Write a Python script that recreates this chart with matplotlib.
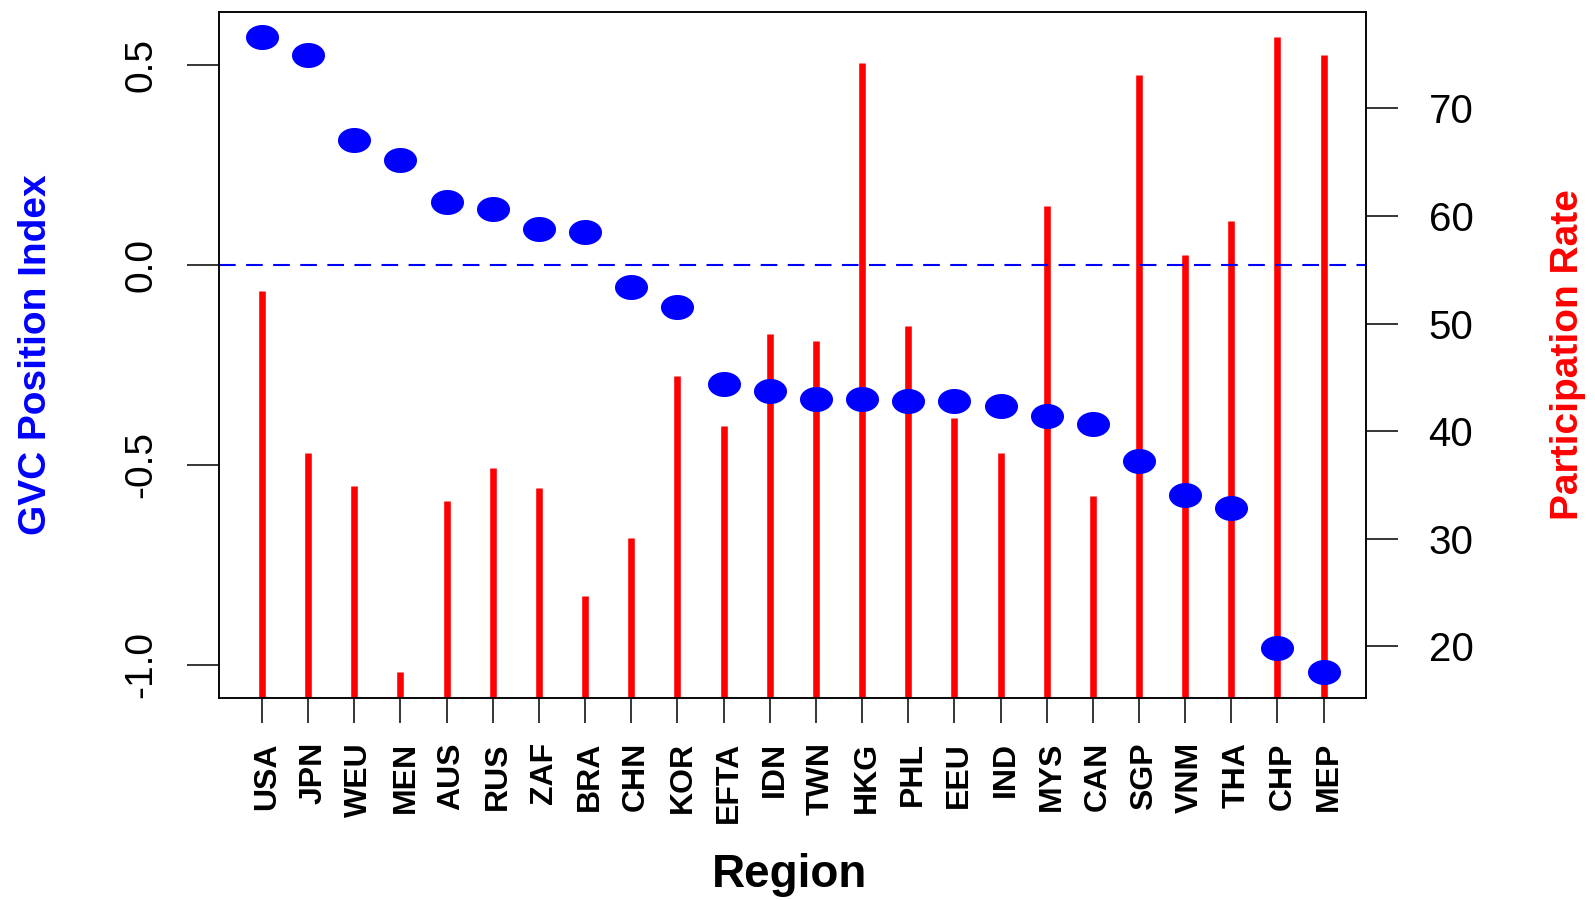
import numpy as np
import matplotlib
matplotlib.use('Agg')
import matplotlib.pyplot as plt
from matplotlib.path import Path
from matplotlib.transforms import ScaledTranslation

plt.rcParams['font.family'] = ['Liberation Sans', 'DejaVu Sans']

# data
regions = ['USA', 'JPN', 'WEU', 'MEN', 'AUS', 'RUS', 'ZAF', 'BRA', 'CHN', 'KOR', 'EFTA', 'IDN',
           'TWN', 'HKG', 'PHL', 'EEU', 'IND', 'MYS', 'CAN', 'SGP', 'VNM', 'THA', 'CHP', 'MEP']
gvc_position = [0.570, 0.525, 0.313, 0.264, 0.158, 0.140, 0.090, 0.084, -0.054, -0.104, -0.297, -0.316,
                -0.334, -0.334, -0.341, -0.341, -0.352, -0.378, -0.397, -0.489, -0.576, -0.609, -0.958, -1.019]
participation = [53.0, 38.0, 34.9, 17.6, 33.5, 36.6, 34.7, 24.7, 30.1, 45.1, 40.5, 49.0,
                 48.4, 74.2, 49.8, 41.2, 38.0, 60.9, 34.0, 73.1, 56.4, 59.5, 76.6, 75.0]
gvc_ticks = [-1.0, -0.5, 0.0, 0.5]
gvc_tick_labels = ['-1.0', '-0.5', '0.0', '0.5']
part_ticks = [20, 30, 40, 50, 60, 70]

x = np.arange(1, len(regions) + 1)


def r_lim(v):
    # R style axis range: data range plus 4% each side
    lo, hi = min(v), max(v)
    r = hi - lo
    return lo - 0.04 * r, hi + 0.04 * r


# slightly wide dot, the picture is stretched sideways
t = np.linspace(0, 2 * np.pi, 64)
ellipse = Path(np.column_stack([1.32 * np.cos(t), np.sin(t)]), closed=True)

fig = plt.figure(figsize=(15.95, 9), dpi=100)
ax = fig.add_axes([0.1376, 0.2248, 0.7189, 0.7619])
ax2 = ax.twinx()

# participation rate (red spikes, right axis)
ax2.vlines(x, 0, participation, color='#ff0000', lw=4.75)
ax2.set_ylim(r_lim(participation))
ax2.set_yticks(part_ticks)
ax2.tick_params(axis='y', labelsize=29, length=23, width=1.1, pad=22)

# position index (blue dots, left axis) on top
ax.set_zorder(ax2.get_zorder() + 1)
ax.patch.set_visible(False)
ax.axhline(0, color='#0000ff', lw=1.5, dashes=(8, 5))
ax.plot(x, gvc_position, ls='none', marker=ellipse, ms=23.8, color='#0000ff', mew=0)
ax.set_xlim(r_lim(x))
ax.set_ylim(r_lim(gvc_position))
ax.set_yticks(gvc_ticks)
ax.set_yticklabels(gvc_tick_labels, rotation=90, va='center')
ax.tick_params(axis='y', labelsize=28, length=23, width=1.1, pad=20)
ax.set_xticks(x)
ax.set_xticklabels(regions, rotation=90, fontweight='bold', fontsize=23)
ax.tick_params(axis='x', length=18, width=1.1, pad=14)
for lab in ax.get_xticklabels():
    lab.set_transform(lab.get_transform() + ScaledTranslation(0.05, 0, fig.dpi_scale_trans))

for a in (ax, ax2):
    for s in a.spines.values():
        s.set_linewidth(1.1)

fig.text(36 / 1595, 1 - 355 / 900, 'GVC Position Index', color='#0000ff', fontsize=28,
         fontweight='bold', rotation=90, ha='center', va='center')
fig.text(1568 / 1595, 1 - 355 / 900, 'Participation Rate', color='#ff0000', fontsize=28,
         fontweight='bold', rotation=90, ha='center', va='center')
fig.text(790 / 1595, 1 - 887 / 900, 'Region', color='black', fontsize=33,
         fontweight='bold', ha='center', va='baseline')

fig.savefig('out.png', dpi=100)
